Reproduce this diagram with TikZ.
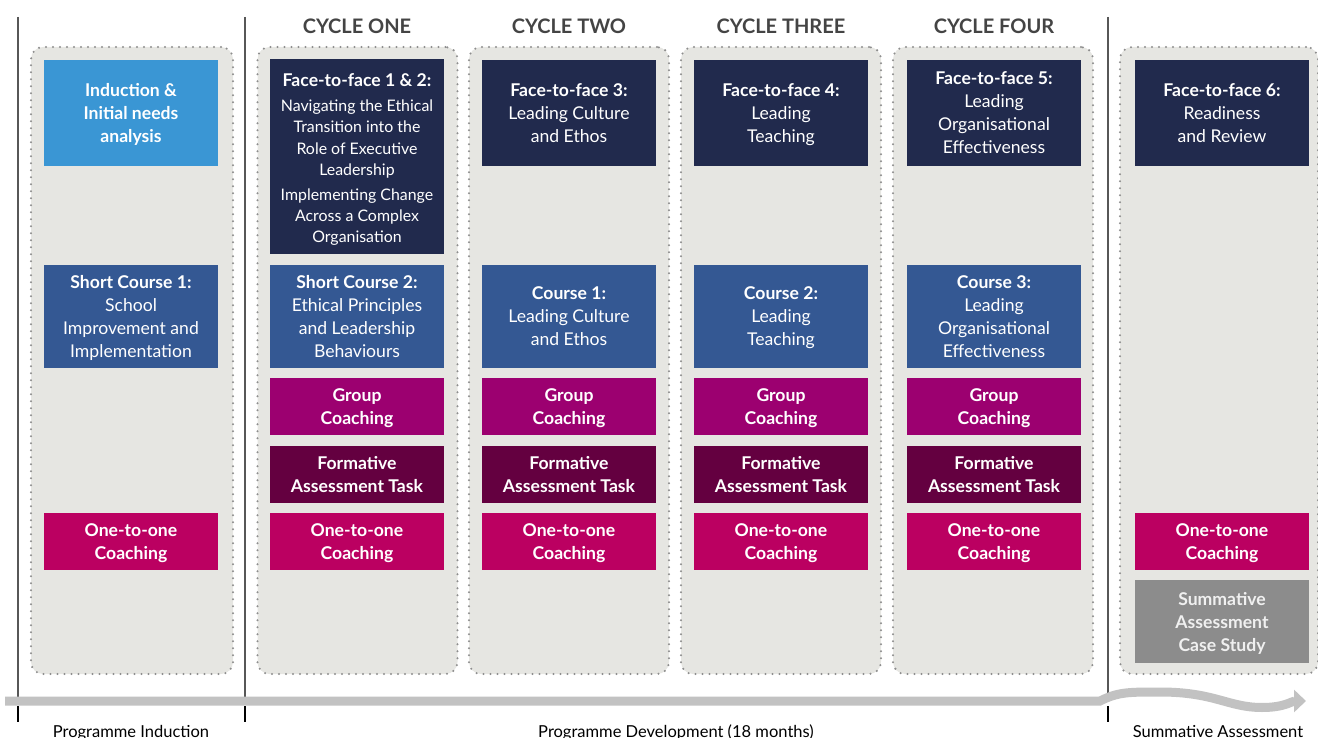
\documentclass[tikz,border=0pt]{standalone}
\usepackage{fontspec}
\setmainfont{Lato}
\usetikzlibrary{arrows.meta}
\definecolor{panelgray}{HTML}{E6E6E2}
\definecolor{dotgray}{HTML}{8E8E8E}
\definecolor{inductblue}{HTML}{3A96D4}
\definecolor{facenavy}{HTML}{212A4D}
\definecolor{courseblue}{HTML}{345893}
\definecolor{groupmag}{HTML}{9C0070}
\definecolor{formdark}{HTML}{640040}
\definecolor{onepink}{HTML}{BB0061}
\definecolor{summgray}{HTML}{8C8C8C}
\definecolor{headgray}{HTML}{444444}
\definecolor{bargray}{HTML}{C2C2C2}
\begin{document}
\begin{tikzpicture}[x=1pt,y=-1pt,
	panel/.style={draw=dotgray, fill=panelgray, line width=2.3pt, dash pattern=on 0pt off 7pt, line cap=round, rounded corners=12pt, minimum width=200pt, minimum height=627pt, inner sep=0pt},
	box/.style={inner sep=0pt, text=white, align=center, minimum width=174pt, text depth=0pt, font=\fontsize{17.6}{23}\selectfont},
	small/.style={box, minimum height=57pt, font=\bfseries\fontsize{17.6}{23}\selectfont},
	cycle/.style={text=headgray, font=\bfseries\fontsize{20}{22}\selectfont},
	phase/.style={anchor=base, font=\fontsize{16.5}{18}\selectfont},
	divider/.style={draw=headgray!90, line width=1.3pt},
	tick/.style={draw=black, line width=2pt}]
	\useasboundingbox (0,0) rectangle (1318,738);
	% column panels
	\node [panel, minimum width=202pt] (pan0) at (132,360.5) {};
	\node [panel] (pan1) at (357.5,360.5) {};
	\node [panel] (pan2) at (569,360.5) {};
	\node [panel] (pan3) at (781,360.5) {};
	\node [panel] (pan4) at (993,360.5) {};
	\node [panel, minimum width=198pt] (pan5) at (1219,360.5) {};
	% dividers
	\coordinate (d0) at (18,17);
	\coordinate (d1) at (245,17);
	\coordinate (d2) at (1108,17);
	\draw [divider] (d0) -- (18,701);
	\draw [divider] (d1) -- (245,701);
	\draw [divider] (d2) -- (1108,701);
	% cycle headings
	\node [cycle] (c1) at (357,26) {CYCLE ONE};
	\node [cycle] (c2) at (569,26) {CYCLE TWO};
	\node [cycle] (c3) at (781,26) {CYCLE THREE};
	\node [cycle] (c4) at (994,26) {CYCLE FOUR};
	% face-to-face row
	\node [box, fill=inductblue, minimum height=106pt, font=\bfseries\fontsize{17.6}{23}\selectfont] (ind) at (131,113) {Induction \&\\Initial needs\\analysis};
	\node [box, fill=facenavy, minimum height=195pt, font=\fontsize{15.9}{21.2}\selectfont] (f1) at (357,156.5) {\rule{0pt}{16pt}{\bfseries\fontsize{17.6}{23}\selectfont Face-to-face 1 \& 2:}\\[4.5pt]
		Navigating the Ethical\\Transition into the\\Role of Executive\\Leadership\\[4pt]
		Implementing Change\\Across a Complex\\Organisation};
	\node [box, fill=facenavy, minimum height=106pt] (f3) at (569,113) {\textbf{Face-to-face 3:}\\Leading Culture\\and Ethos};
	\node [box, fill=facenavy, minimum height=106pt] (f4) at (781,113) {\textbf{Face-to-face 4:}\\Leading\\Teaching};
	\node [box, fill=facenavy, minimum height=106pt] (f5) at (994,113) {\textbf{Face-to-face 5:}\\Leading\\Organisational\\Effectiveness};
	\node [box, fill=facenavy, minimum height=106pt] (f6) at (1222,113) {\textbf{Face-to-face 6:}\\Readiness\\and Review};
	% course row
	\node [box, fill=courseblue, minimum height=103pt] (sc1) at (131,316.5) {\textbf{Short Course 1:}\\School\\Improvement and\\Implementation};
	\node [box, fill=courseblue, minimum height=103pt] (sc2) at (357,316.5) {\textbf{Short Course 2:}\\Ethical Principles\\and Leadership\\Behaviours};
	\node [box, fill=courseblue, minimum height=103pt] (co1) at (569,316.5) {\textbf{Course 1:}\\Leading Culture\\and Ethos};
	\node [box, fill=courseblue, minimum height=103pt] (co2) at (781,316.5) {\textbf{Course 2:}\\Leading\\Teaching};
	\node [box, fill=courseblue, minimum height=103pt] (co3) at (994,316.5) {\textbf{Course 3:}\\Leading\\Organisational\\Effectiveness};
	% group coaching
	\node [small, fill=groupmag] (g1) at (357,406.5) {Group\\Coaching};
	\node [small, fill=groupmag] (g2) at (569,406.5) {Group\\Coaching};
	\node [small, fill=groupmag] (g3) at (781,406.5) {Group\\Coaching};
	\node [small, fill=groupmag] (g4) at (994,406.5) {Group\\Coaching};
	% formative tasks
	\node [small, fill=formdark] (fa1) at (357,474.5) {Formative\\Assessment Task};
	\node [small, fill=formdark] (fa2) at (569,474.5) {Formative\\Assessment Task};
	\node [small, fill=formdark] (fa3) at (781,474.5) {Formative\\Assessment Task};
	\node [small, fill=formdark] (fa4) at (994,474.5) {Formative\\Assessment Task};
	% one-to-one coaching
	\node [small, fill=onepink] (o0) at (131,541.5) {One-to-one\\Coaching};
	\node [small, fill=onepink] (o1) at (357,541.5) {One-to-one\\Coaching};
	\node [small, fill=onepink] (o2) at (569,541.5) {One-to-one\\Coaching};
	\node [small, fill=onepink] (o3) at (781,541.5) {One-to-one\\Coaching};
	\node [small, fill=onepink] (o4) at (994,541.5) {One-to-one\\Coaching};
	\node [small, fill=onepink] (o5) at (1222,541.5) {One-to-one\\Coaching};
	\node [small, fill=summgray, minimum height=83pt, text=white!94!black] (sum) at (1222,621.5) {Summative\\Assessment\\Case Study};
	% timeline
	\coordinate (tstart) at (5,701);
	\coordinate (tend) at (1318,701);
	\draw [bargray, line width=9pt, -{Triangle[length=12pt,width=22pt]}] (tstart) -- (1100,701)
		.. controls (1118,692) and (1128,692) .. (1160,692)
		.. controls (1215,692) and (1228,707.5) .. (1262,707.5)
		.. controls (1285,707.5) and (1292,701) .. (1306,701);
	\draw [tick] (18,706) -- (18,722);
	\draw [tick] (245,706) -- (245,722);
	\draw [tick] (1108,706) -- (1108,722);
	\node [phase] (p1) at (131,737) {Programme Induction};
	\node [phase] (p2) at (676,737) {Programme Development (18 months)};
	\node [phase] (p3) at (1218,737) {Summative Assessment};
\end{tikzpicture}
\end{document}
